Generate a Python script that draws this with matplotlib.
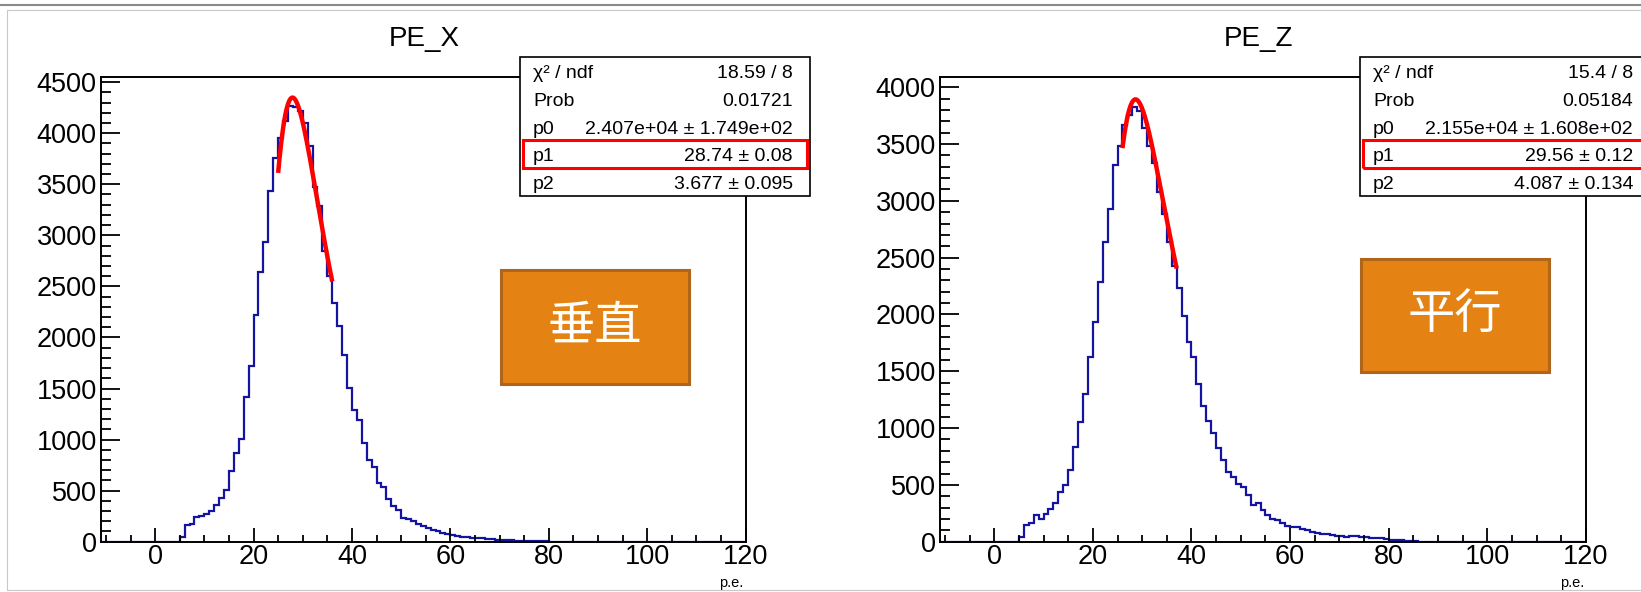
import numpy as np
import matplotlib
matplotlib.use("Agg")
import matplotlib.pyplot as plt
from matplotlib.patches import Rectangle
from matplotlib.lines import Line2D

W, H = 1641, 592
DPI = 100

# ---------------- data ----------------
bin_start = 5          # first non-empty bin (lower edge, p.e.)
x_min, x_max = -11, 120

counts_x = [50, 165, 175, 240, 255, 270, 300, 360, 425, 510,
            690, 870, 1010, 1420, 1720, 2220, 2640, 2930, 3430, 3760,
            3955, 4120, 4265, 4260, 4215, 4100, 3870, 3470, 3290, 2850,
            2600, 2340, 2110, 1830, 1505, 1294, 1196, 967, 804, 730,
            575, 535, 415, 350, 310, 235, 225, 205, 175, 150,
            130, 115, 100, 85, 72, 62, 55, 50, 45, 40,
            36, 32, 28, 24, 20, 17, 14, 12, 10, 9,
            8, 6, 4, 3, 2, 1]

counts_z = [44, 150, 164, 232, 202, 246, 290, 340, 437, 496,
            629, 834, 1055, 1304, 1626, 1934, 2286, 2638, 2931, 3312,
            3479, 3670, 3757, 3825, 3787, 3640, 3480, 3330, 3080, 2880,
            2640, 2430, 2230, 1990, 1760, 1630, 1390, 1190, 1060, 953,
            821, 718, 616, 570, 512, 483, 410, 323, 343, 279,
            235, 197, 191, 167, 138, 132, 126, 114, 103, 88,
            79, 67, 67, 59, 53, 53, 38, 47, 47, 38,
            38, 29, 29, 29, 20, 18, 15, 12, 8, 5,
            3, 1]

titles = ["PE_X", "PE_Z"]
ylims = [4550, 4090]
fit_ranges = [(25, 36), (26, 37)]
fit_params = [(2.407e4, 28.74, 3.677), (2.155e4, 29.56, 4.087)]
stats_labels = ["\u03c7\u00b2 / ndf", "Prob", "p0", "p1", "p2"]
stats_x = ["18.59 / 8", "0.01721", "2.407e+04 \u00b1 1.749e+02",
           "28.74 \u00b1 0.08", "3.677 \u00b1 0.095"]
stats_z = ["15.4 / 8", "0.05184", "2.155e+04 \u00b1 1.608e+02",
           "29.56 \u00b1 0.12", "4.087 \u00b1 0.134"]
box_texts = ["\u5782\u76f4", "\u5e73\u884c"]
x_label = "p.e."

# ---------------- helpers ----------------
def fx(px):
    return px / W

def fy(py):
    return 1 - py / H

def landau(lam):
    t = np.linspace(1e-9, 60, 120001)
    lam = np.atleast_1d(lam)[:, None]
    integrand = np.exp(-t * np.log(t) - lam * t) * np.sin(np.pi * t)
    return np.trapezoid(integrand, t, axis=1) / np.pi

plt.rcParams['font.family'] = ['Liberation Sans', 'DejaVu Sans']

fig = plt.figure(figsize=(W / DPI, H / DPI), dpi=DPI)
fig.patch.set_facecolor('white')

# outer decorations
fig.add_artist(Line2D([0, 1], [fy(4.5), fy(4.5)], transform=fig.transFigure,
                      color='#8a8a8a', lw=1.5))
fig.add_artist(Rectangle((fx(7), fy(590)), fx(1641 - 7 + 20), fy(10) - fy(590),
                         transform=fig.transFigure, fill=False,
                         edgecolor='#c8c8c8', lw=0.8))

axes_px = [(101, 77, 745.5, 541.7), (940, 77, 1586, 541.7)]
title_px = [(424, 39), (1258, 39)]
stats_px = [(520, 57.3, 810, 195.7), (1360, 57.3, 1650, 195.7)]
orange_px = [(500.5, 269.5, 689, 384), (1360.6, 258.5, 1549, 371.5)]

all_counts = [counts_x, counts_z]
all_stats = [stats_x, stats_z]

edges = np.arange(x_min, x_max + 1, 1.0)

for i in range(2):
    l, t, r, b = axes_px[i]
    ax = fig.add_axes([fx(l), fy(b), fx(r - l), fy(t) - fy(b)])
    vals = np.zeros(len(edges) - 1)
    c = np.array(all_counts[i], dtype=float)
    i0 = bin_start - x_min
    vals[i0:i0 + len(c)] = c
    ax.stairs(vals, edges, color='#1414a0', lw=1.6)

    p0, p1, p2 = fit_params[i]
    xs = np.linspace(fit_ranges[i][0], fit_ranges[i][1], 200)
    ax.plot(xs, p0 * landau((xs - p1) / p2), color='#ff0000', lw=3.2,
            solid_capstyle='butt')

    ax.set_xlim(x_min, x_max)
    ax.set_ylim(0, ylims[i])
    ax.set_xticks(np.arange(0, 121, 20))
    ax.set_xticks(np.arange(-10, 121, 5), minor=True)
    ax.set_yticks(np.arange(0, ylims[i], 500))
    ax.set_yticks(np.arange(0, ylims[i], 100), minor=True)
    ax.tick_params(axis='both', which='both', direction='in', top=False,
                   right=False, labelsize=19.5, width=1.3, colors='black')
    ax.tick_params(axis='y', which='major', length=13.5, pad=3)
    ax.tick_params(axis='y', which='minor', length=7)
    ax.tick_params(axis='x', which='major', length=10, pad=2)
    ax.tick_params(axis='x', which='minor', length=5)
    for s in ax.spines.values():
        s.set_linewidth(1.4)
    ax.set_facecolor('white')

    fig.text(fx(r - 2), fy(583.3), x_label, ha='right', va='center',
             fontsize=10.5)
    fig.text(fx(title_px[i][0]), fy(title_px[i][1]), titles[i], ha='center',
             va='center', fontsize=20)

    # stats box
    sl, st, sr, sb = stats_px[i]
    fig.add_artist(Rectangle((fx(sl), fy(sb)), fx(sr - sl), fy(st) - fy(sb),
                             transform=fig.transFigure, facecolor='white',
                             edgecolor='black', lw=1.2, zorder=5))
    row_h = (sb - st) / 5
    for k in range(5):
        yc = st + row_h * (k + 0.5) + 2.5
        fig.text(fx(sl + 13), fy(yc), stats_labels[k], ha='left', va='center',
                 fontsize=14, zorder=6)
        fig.text(fx(sl + 273), fy(yc), all_stats[i][k], ha='right', va='center',
                 fontsize=14, zorder=6)
    r_top = st + 3 * row_h
    r_bot = st + 4 * row_h - 0.5
    fig.add_artist(Rectangle((fx(sl + 3), fy(r_bot)), fx(sr - sl - 6),
                             fy(r_top) - fy(r_bot),
                             transform=fig.transFigure, fill=False,
                             edgecolor='#ff0000', lw=2.2, zorder=7))

    # orange label box
    ol, ot, orr, ob = orange_px[i]
    fig.add_artist(Rectangle((fx(ol), fy(ob)), fx(orr - ol), fy(ot) - fy(ob),
                             transform=fig.transFigure, facecolor='#e48314',
                             edgecolor='#b0661a', lw=2.2, zorder=5))
    fig.text(fx((ol + orr) / 2), fy((ot + ob) / 2), box_texts[i], ha='center',
             va='center', fontsize=34, color='white', zorder=6,
             family=['Noto Sans CJK SC', 'DejaVu Sans'], fontweight='light')

fig.savefig('out.png', dpi=DPI, facecolor='white')
